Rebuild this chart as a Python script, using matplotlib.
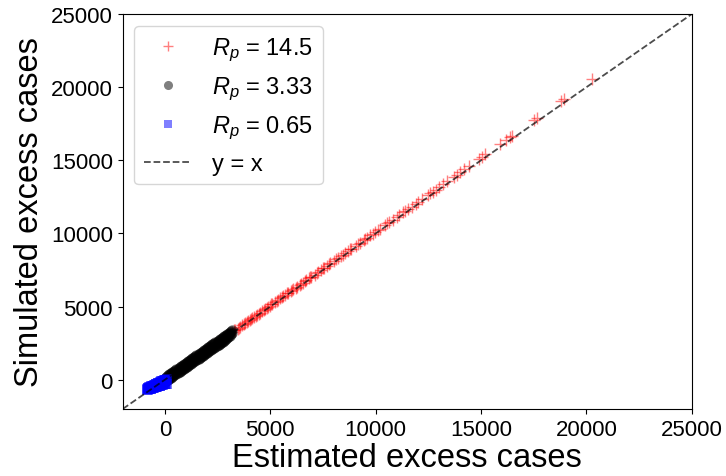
import matplotlib
matplotlib.use("Agg")
import matplotlib.pyplot as plt

plt.rcParams['font.family'] = ['Liberation Sans', 'DejaVu Sans']
plt.rcParams['mathtext.fontset'] = 'custom'
plt.rcParams['mathtext.it'] = 'Liberation Sans:italic'
plt.rcParams['mathtext.rm'] = 'Liberation Sans'

# ---- data ----
red_x = [300, 520, 750, 980, 1200, 1450, 1650, 1900, 2100, 2350, 2550, 2800, 3000, 3200,
         3350, 3450, 3550, 3680, 3800, 3900, 4020, 4150, 4250, 4380, 4500, 4620, 4750, 4850,
         4980, 5100, 5220, 5350, 5480, 5600, 5720, 5850, 5980, 6100, 6250, 6400, 6550, 6700,
         6850, 6950, 7100, 7250, 7400, 7550, 7700, 7850, 8000, 8200, 8350, 8550, 8700, 8850,
         9050, 9250, 9450, 9600, 9750, 9950, 10200, 10450, 10650, 10800, 11100, 11300, 11550,
         11700, 11900, 12200, 12500, 12700, 12850, 13000, 13400, 13700, 13850, 14000, 14450,
         14900, 15050, 15200, 15900, 16200, 16350, 16450, 17500, 17650, 18800, 18950, 20250,
         3300, 3500, 3750, 3950, 4100, 4300, 4450, 4700, 4900, 5050, 5300, 5550, 5800, 6050,
         6200, 6450, 6650, 6900, 7200, 7500, 7800, 8100, 8450, 8800, 9150, 9500, 9850, 10100,
         10550, 11000, 11400, 12000, 12600, 13200, 14200]
red_y = [330, 560, 790, 1010, 1240, 1480, 1700, 1930, 2150, 2400, 2600, 2850, 3070, 3260,
         3420, 3500, 3620, 3740, 3870, 3960, 4100, 4210, 4320, 4450, 4580, 4690, 4820, 4930,
         5050, 5180, 5300, 5420, 5560, 5690, 5800, 5930, 6070, 6190, 6330, 6490, 6640, 6790,
         6950, 7040, 7190, 7340, 7490, 7650, 7800, 7950, 8100, 8300, 8460, 8650, 8810, 8960,
         9160, 9360, 9560, 9720, 9870, 10070, 10320, 10570, 10780, 10930, 11230, 11440, 11690,
         11840, 12040, 12350, 12650, 12860, 13000, 13160, 13560, 13870, 14020, 14180, 14640,
         15090, 15240, 15400, 16110, 16410, 16560, 16660, 17730, 17880, 19050, 19200, 20580,
         3380, 3560, 3800, 4030, 4160, 4380, 4520, 4790, 4980, 5150, 5390, 5650, 5900, 6160,
         6300, 6560, 6760, 7010, 7300, 7620, 7910, 8230, 8560, 8940, 9290, 9640, 9990, 10240,
         10690, 11150, 11560, 12160, 12770, 13370, 14400]

black_x = [0, 50, 100, 150, 200, 250, 300, 350, 400, 450, 500, 550, 600, 650, 700, 750,
           800, 850, 900, 950, 1000, 1050, 1100, 1150, 1200, 1250, 1300, 1350, 1400, 1450,
           1500, 1550, 1600, 1650, 1700, 1750, 1800, 1850, 1900, 1950, 2000, 2050, 2100,
           2150, 2200, 2250, 2300, 2350, 2400, 2450, 2500, 2550, 2600, 2650, 2700, 2750,
           2800, 2850, 2900, 2950, 3000, 3050, 3100, 3150, 3200]
black_y_upper = [150, 210, 250, 310, 360, 400, 460, 500, 560, 610, 650, 710, 760, 800, 860,
                 910, 950, 1010, 1060, 1100, 1160, 1210, 1260, 1310, 1360, 1410, 1460, 1510,
                 1560, 1610, 1660, 1710, 1760, 1810, 1860, 1910, 1960, 2010, 2060, 2110, 2160,
                 2210, 2260, 2310, 2360, 2410, 2460, 2510, 2560, 2610, 2660, 2710, 2760, 2810,
                 2860, 2910, 2960, 3010, 3060, 3110, 3160, 3210, 3260, 3320, 3380]
black_y_lower = [-150, -90, -40, 0, 60, 110, 150, 210, 250, 300, 360, 400, 450, 500, 550,
                 600, 650, 700, 750, 800, 850, 900, 950, 1000, 1050, 1100, 1150, 1200, 1250,
                 1300, 1350, 1400, 1450, 1500, 1550, 1600, 1650, 1700, 1750, 1800, 1850, 1900,
                 1950, 2000, 2050, 2100, 2150, 2200, 2250, 2300, 2350, 2400, 2450, 2500, 2560,
                 2610, 2660, 2720, 2780, 2840, 2900, 2960, 3020, 3100, 3200]

blue_x = [-850, -820, -790, -760, -730, -700, -670, -640, -610, -580, -550, -520, -490,
          -460, -430, -400, -370, -340, -310, -280, -250, -220, -190, -160, -130, -100,
          -70, -40, -10, 20, 50, 80]
blue_y_upper = [-620, -590, -570, -540, -520, -500, -480, -460, -440, -420, -400, -380,
                -360, -340, -310, -290, -270, -250, -230, -210, -190, -170, -140, -120,
                -100, -80, -60, -40, -20, 0, 10, 30]
blue_y_lower = [-680, -670, -660, -650, -640, -630, -610, -600, -590, -570, -560, -550,
                -530, -520, -500, -490, -470, -460, -440, -430, -410, -400, -380, -370,
                -350, -340, -320, -310, -290, -280, -270, -260]

line_ends = [-2000, 25000]
ticks = [0, 5000, 10000, 15000, 20000, 25000]

fig = plt.figure(figsize=(7.26, 4.77), dpi=100)
ax = fig.add_axes([0.169, 0.1405, 0.784, 0.828])

ax.plot(red_x, red_y, linestyle='none', marker='+', color='red', alpha=0.5,
        markersize=9, markeredgewidth=1.0, label=r'$R_p$ = 14.5')
ax.plot(black_x + black_x, black_y_upper + black_y_lower, linestyle='none', marker='o',
        color='black', alpha=0.5, markersize=7.5, markeredgewidth=0, label=r'$R_p$ = 3.33')
ax.plot(blue_x + blue_x, blue_y_upper + blue_y_lower, linestyle='none', marker='s',
        color='blue', alpha=0.5, markersize=6.5, markeredgewidth=0, label=r'$R_p$ = 0.65')
ax.plot(line_ends, line_ends, linestyle='--', color='black', alpha=0.7, linewidth=1.3,
        label='y = x')

ax.set_xlim(-2000, 25000)
ax.set_ylim(-2000, 25000)
ax.set_xticks(ticks)
ax.set_yticks(ticks)
ax.tick_params(labelsize=16)
ax.set_xlabel('Estimated excess cases', fontsize=23.5, labelpad=2)
ax.set_ylabel('Simulated excess cases', fontsize=23.5, labelpad=4)

ax.legend(loc='upper left', fontsize=17, handlelength=2.0, borderpad=0.4,
          handletextpad=0.9, markerscale=0.87)

fig.savefig('out.png', dpi=100)
